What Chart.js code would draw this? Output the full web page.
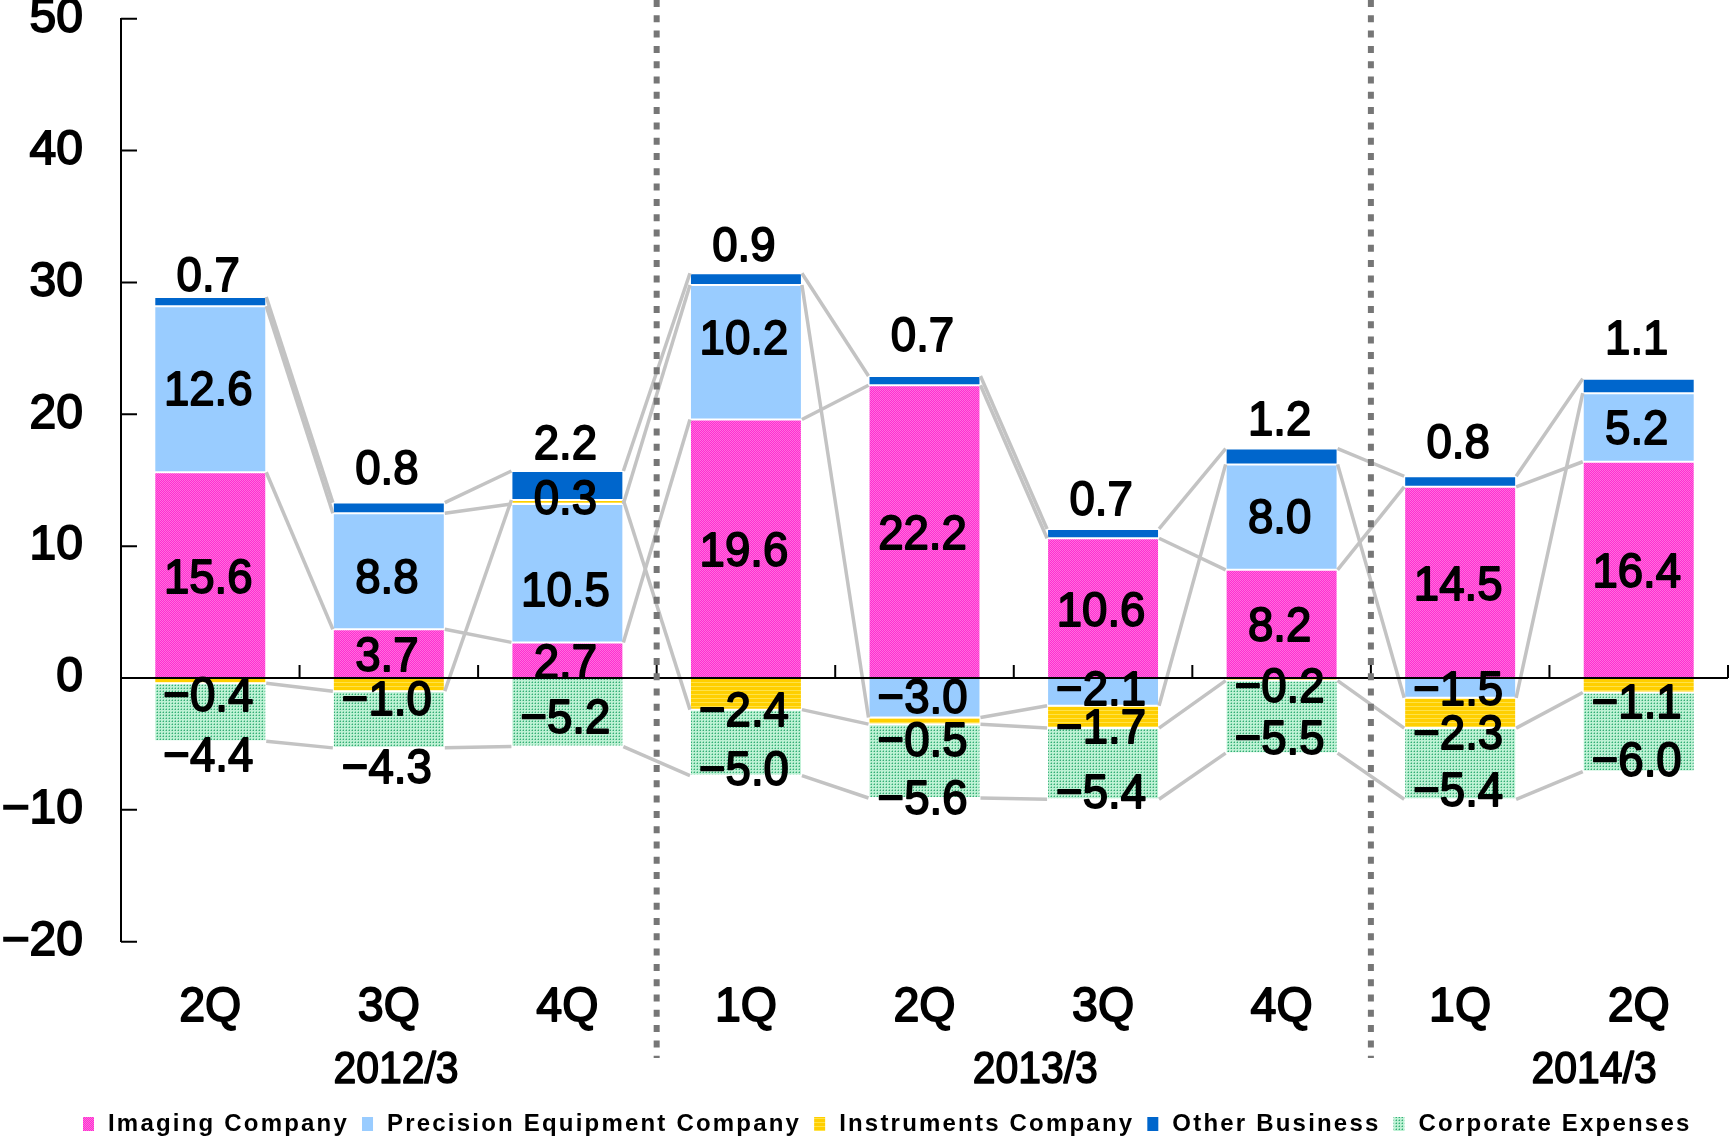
<!DOCTYPE html>
<html>
<head>
<meta charset="utf-8">
<script src="https://cdn.jsdelivr.net/npm/chart.js@4.4.1/dist/chart.umd.min.js"></script>
<style>
  html, body { margin: 0; padding: 0; background: #fff; }
  #wrap { width: 1729px; height: 1141px; }
</style>
</head>
<body>
<div id="wrap"><canvas id="c" width="1729" height="1141"></canvas></div>
<script>
// ---------------- data ----------------
const categories   = ['2Q', '3Q', '4Q', '1Q', '2Q', '3Q', '4Q', '1Q', '2Q'];
const fiscalYears  = ['2012/3', '2013/3', '2014/3'];
const yearOfCategory = [0, 0, 0, 1, 1, 1, 1, 2, 2];
const seriesNames  = ['Imaging Company', 'Precision Equipment Company', 'Instruments Company', 'Other Business', 'Corporate Expenses'];
const imaging      = [15.6, 3.7, 2.7, 19.6, 22.2, 10.6, 8.2, 14.5, 16.4];
const precision    = [12.6, 8.8, 10.5, 10.2, -3.0, -2.1, 8.0, -1.5, 5.2];
const instruments  = [-0.4, -1.0, 0.3, -2.4, -0.5, -1.7, -0.2, -2.3, -1.1];
const other        = [0.7, 0.8, 2.2, 0.9, 0.7, 0.7, 1.2, 0.8, 1.1];
const corporate    = [-4.4, -4.3, -5.2, -5.0, -5.6, -5.4, -5.5, -5.4, -6.0];
const yMin = -20, yMax = 50, yStep = 10;

// ---------------- layout / style ----------------
const yearLabelAt    = [1.04, 4.62, 7.75];          // fractional category index for year labels
const imagingLabelShift = [4, 4, 4, 4, 4, 4, 4, 4, 4];
const precLabelShift = [2, 8, 19, -12, 2, 0, 2, 4, 3];
const instLabelShift = [17, 17, -1, 19, 22, 13, 9, 23, 19];
const corpLabelShift = [45, 50, 7, 29, 39, 31, 24, 29, 30];
const otherLabelLift = [19, 32, 25, 26, 39, 28, 27, 32, 38];
const FONT = '"Liberation Sans", Arial, sans-serif';

const canvas = document.getElementById('c');
const ctx = canvas.getContext('2d');

function makePattern(w, h, draw) {
  const c = document.createElement('canvas');
  c.width = w; c.height = h;
  const g = c.getContext('2d');
  draw(g);
  return ctx.createPattern(c, 'repeat');
}
const imagingFill = makePattern(2, 2, g => {
  g.fillStyle = '#FF2ECF'; g.fillRect(0, 0, 2, 2);
  g.fillStyle = '#FF6EDF'; g.fillRect(0, 0, 1, 1); g.fillRect(1, 1, 1, 1);
});
const instFill = makePattern(4, 4, g => {
  g.fillStyle = '#FFCF00'; g.fillRect(0, 0, 4, 4);
  g.fillStyle = '#FFE24A'; g.fillRect(0, 2, 4, 1);
});
const corpFill = makePattern(3, 3, g => {
  g.fillStyle = '#BDF1D4'; g.fillRect(0, 0, 3, 3);
  g.fillStyle = '#35AC76'; g.fillRect(1, 1, 1, 1);
  g.fillStyle = '#80D6AA'; g.fillRect(0, 1, 1, 1); g.fillRect(1, 0, 1, 1);
});
const fills = [imagingFill, '#99CCFF', instFill, '#0066CC', corpFill];
const seriesData = [imaging, precision, instruments, other, corporate];

function fmt(v) {
  return (v < 0 ? '\u2212' : '') + Math.abs(v).toFixed(1);
}
function drawText(c, s, x, y, font, stroke, sx) {
  c.save();
  c.translate(x, y);
  c.scale(sx || 1, 1);
  c.font = font;
  c.textAlign = 'center';
  c.textBaseline = 'middle';
  c.fillStyle = '#000';
  if (stroke) {
    c.lineWidth = stroke; c.strokeStyle = '#000'; c.lineJoin = 'round';
    c.strokeText(s, 0, 0);
  }
  c.fillText(s, 0, 0);
  c.restore();
}

const decorPlugin = {
  id: 'decor',
  afterDatasetsDraw(chart) {
    const c = chart.ctx;
    const xs = chart.scales.x, ys = chart.scales.y;
    const area = chart.chartArea;
    const n = categories.length;
    const x0 = xs.getPixelForValue(0);
    const step = xs.getPixelForValue(1) - x0;
    const meta0 = chart.getDatasetMeta(0);
    const barW = meta0.data[0].width;

    // cumulative ends of each series in each bar
    const ends = seriesData.map(() => []);
    const starts = seriesData.map(() => []);
    for (let i = 0; i < n; i++) {
      let pos = 0, neg = 0;
      seriesData.forEach((arr, s) => {
        const v = arr[i];
        if (v >= 0) { starts[s][i] = pos; pos += v; ends[s][i] = pos; }
        else { starts[s][i] = neg; neg += v; ends[s][i] = neg; }
      });
    }

    c.save();
    // series connector lines
    c.strokeStyle = '#C3C3C3';
    c.lineWidth = 3.5;
    for (let s = 0; s < seriesData.length; s++) {
      for (let i = 0; i < n - 1; i++) {
        const xa = meta0.data[i].x + barW / 2;
        const xb = meta0.data[i + 1].x - barW / 2;
        c.beginPath();
        c.moveTo(xa, ys.getPixelForValue(ends[s][i]));
        c.lineTo(xb, ys.getPixelForValue(ends[s][i + 1]));
        c.stroke();
      }
    }

    // zero line + category ticks
    const yz = ys.getPixelForValue(0);
    c.strokeStyle = '#000';
    c.lineWidth = 2;
    c.beginPath();
    c.moveTo(area.left, yz); c.lineTo(area.right, yz);
    for (let k = 1; k <= n; k++) {
      const bx = x0 - step / 2 + k * step;
      c.moveTo(bx, yz); c.lineTo(bx, yz - 13);
    }
    // inward y ticks
    ys.ticks.forEach(t => {
      const ty = ys.getPixelForValue(t.value);
      c.moveTo(area.left, ty); c.lineTo(area.left + 16, ty);
    });
    c.stroke();

    // fiscal year separators
    c.strokeStyle = '#767676';
    c.lineWidth = 6;
    c.setLineDash([7, 8.3]);
    for (let i = 1; i < n; i++) {
      if (yearOfCategory[i] !== yearOfCategory[i - 1]) {
        const bx = x0 - step / 2 + i * step;
        c.beginPath();
        c.moveTo(bx, 0); c.lineTo(bx, 1058);
        c.stroke();
      }
    }
    c.setLineDash([]);

    // data labels
    const labelFont = '49px ' + FONT;
    for (let i = 0; i < n; i++) {
      const bx = meta0.data[i].x;
      for (let s = 0; s < seriesData.length; s++) {
        const v = seriesData[s][i];
        const mid = ys.getPixelForValue((starts[s][i] + ends[s][i]) / 2);
        let y = mid;
        if (s === 0) y = mid + imagingLabelShift[i];
        if (s === 1) y = mid + precLabelShift[i];
        if (s === 2) y = mid + instLabelShift[i];
        if (s === 4) y = mid + corpLabelShift[i];
        if (s === 3) y = ys.getPixelForValue(ends[s][i]) - otherLabelLift[i];
        drawText(c, fmt(v), bx - 2, y, labelFont, 1.8, 0.93);
      }
      // quarter label
      drawText(c, categories[i], bx, 1007, '49px ' + FONT, 1.8, 0.95);
    }
    // fiscal year labels
    fiscalYears.forEach((yl, k) => {
      drawText(c, yl, x0 + yearLabelAt[k] * step, 1071, '44px ' + FONT, 1.6, 0.93);
    });

    // legend
    c.font = 'bold 24px ' + FONT;
    c.letterSpacing = '2.2px';
    let lx = 83;
    const ly = 1124;
    seriesNames.forEach((name, s) => {
      c.fillStyle = fills[s];
      c.fillRect(lx, ly - 7, 11, 14);
      lx += 11 + 14;
      c.fillStyle = '#000';
      c.textAlign = 'left';
      c.textBaseline = 'middle';
      c.fillText(name, lx, ly);
      lx += c.measureText(name).width + 13;
    });
    c.letterSpacing = '0px';
    c.restore();
  }
};

new Chart(canvas, {
  type: 'bar',
  data: {
    labels: categories,
    datasets: seriesData.map((arr, s) => ({
      label: seriesNames[s],
      data: arr,
      backgroundColor: fills[s],
      borderColor: '#FFFFFF',
      borderWidth: 1,
      borderSkipped: false,
      stack: 'all',
      barPercentage: 0.627,
      categoryPercentage: 1.0
    }))
  },
  options: {
    responsive: false,
    devicePixelRatio: 1,
    animation: false,
    layout: { padding: { top: 18.7, bottom: 199.3, left: 0, right: 1 } },
    plugins: { legend: { display: false }, tooltip: { enabled: false } },
    scales: {
      x: { display: false, stacked: true },
      y: {
        stacked: true,
        min: yMin, max: yMax,
        ticks: {
          stepSize: yStep,
          padding: 38,
          color: '#000',
          font: { family: FONT, size: 48 },
          textStrokeColor: '#000',
          textStrokeWidth: 1.8,
          callback: v => (v < 0 ? '\u2212' + (-v) : String(v))
        },
        grid: { display: false, drawTicks: false },
        border: { display: true, color: '#000', width: 2 },
        afterFit: sc => { sc.width = 121; sc.paddingTop = 0; sc.paddingBottom = 0; }
      }
    }
  },
  plugins: [decorPlugin]
});
</script>
</body>
</html>
